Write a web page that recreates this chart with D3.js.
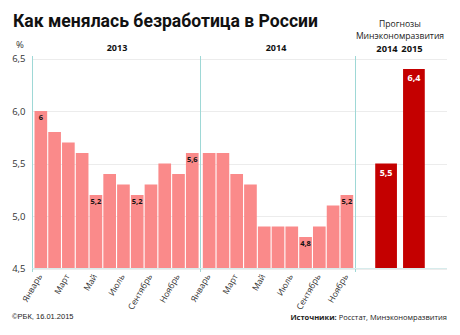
<!DOCTYPE html>
<html>
<head>
<meta charset="utf-8">
<script src="https://cdn.jsdelivr.net/npm/d3@7"></script>
<style>
  html, body { margin: 0; padding: 0; background: #fff; }
  svg { display: block; font-family: "Open Sans", "Noto Sans", sans-serif; }
</style>
</head>
<body>
<svg id="chart" width="460" height="335"></svg>
<script>
// Unemployment rate, % (Rosstat), monthly
const months = ["Январь","Февраль","Март","Апрель","Май","Июнь","Июль","Август","Сентябрь","Октябрь","Ноябрь","Декабрь"];
const values2013 = [6.0, 5.8, 5.7, 5.6, 5.2, 5.4, 5.3, 5.2, 5.3, 5.5, 5.4, 5.6];
const values2014 = [5.6, 5.6, 5.4, 5.3, 4.9, 4.9, 4.9, 4.8, 4.9, 5.1, 5.2];
// Months whose value is written on the bar
const labeled2013 = ["Январь","Май","Август","Декабрь"];
const labeled2014 = ["Август","Ноябрь"];
// Ministry of Economic Development forecast
const forecastYears = ["2014","2015"];
const forecastValues = [5.5, 6.4];
const yTicks = [4.5, 5.0, 5.5, 6.0, 6.5];

const svg = d3.select("#chart");
const fmt = v => (Number.isInteger(v) ? String(v) : d3.format(".1f")(v)).replace(".", ",");
const fmtTick = v => d3.format(".1f")(v).replace(".", ",");

const pink = "#fa8a8a", darkRed = "#c40000", teal = "#9ed8d6", grid = "#ececec";
const left = 32.5, sep1 = 200.5, sep2 = 355.5, right = 447;

const y = d3.scaleLinear().domain([4.5, 6.5]).range([268.5, 58.5]);

const x13 = d3.scaleBand().domain(months).range([34.5, 198.6]).paddingInner(0.08).paddingOuter(0);
const months14 = months.slice(0, values2014.length);
const x14 = d3.scaleBand().domain(months14).range([202.8, 353.2]).paddingInner(0.08).paddingOuter(0);
const xF = d3.scaleBand().domain(forecastYears).range([373, 427]).paddingInner(0.22).paddingOuter(0.08);

// Title
svg.append("text").attr("x", 13).attr("y", 27)
  .attr("font-size", 17.5).attr("font-weight", 700).attr("fill", "#111")
  .attr("font-family", "Roboto, 'Open Sans', sans-serif")
  .attr("textLength", 305).attr("lengthAdjust", "spacingAndGlyphs")
  .text("Как менялась безработица в России");

// Gridlines
svg.append("g").selectAll("line").data(yTicks).join("line")
  .attr("x1", left).attr("x2", right)
  .attr("y1", d => Math.round(y(d)) + 0.5).attr("y2", d => Math.round(y(d)) + 0.5)
  .attr("stroke", grid).attr("stroke-width", 1);

// Y axis labels
const yAxis = d3.axisLeft(y).tickValues(yTicks).tickFormat(fmtTick).tickSize(0).tickPadding(0);
const gy = svg.append("g").attr("transform", `translate(${left - 7},0)`).call(yAxis);
gy.select(".domain").remove();
gy.selectAll("text").attr("font-size", 9.5).attr("fill", "#333")
  .attr("font-family", "'Open Sans', sans-serif");
svg.append("text").attr("x", 20).attr("y", 48).attr("text-anchor", "middle")
  .attr("font-size", 9.5).attr("fill", "#333").text("%");

// Bars
function drawBars(data, xs, labeled) {
  const g = svg.append("g");
  g.selectAll("rect").data(data).join("rect")
    .attr("x", d => xs(d.m)).attr("width", xs.bandwidth())
    .attr("y", d => y(d.v)).attr("height", d => y(4.5) - y(d.v))
    .attr("fill", pink);
  g.selectAll("text").data(data.filter(d => labeled.includes(d.m))).join("text")
    .attr("x", d => xs(d.m) + xs.bandwidth() / 2).attr("y", d => y(d.v) + 9)
    .attr("text-anchor", "middle").attr("font-size", 7.5).attr("font-weight", 700)
    .attr("fill", "#111").text(d => fmt(d.v));
}
drawBars(months.map((m, i) => ({m, v: values2013[i]})), x13, labeled2013);
drawBars(months14.map((m, i) => ({m, v: values2014[i]})), x14, labeled2014);

// Forecast bars
const gf = svg.append("g");
const fData = forecastYears.map((k, i) => ({k, v: forecastValues[i]}));
gf.selectAll("rect").data(fData).join("rect")
  .attr("x", d => xF(d.k)).attr("width", xF.bandwidth())
  .attr("y", d => y(d.v)).attr("height", d => y(4.5) - y(d.v))
  .attr("fill", darkRed);
gf.selectAll("text").data(fData).join("text")
  .attr("x", d => xF(d.k) + xF.bandwidth() / 2).attr("y", d => y(d.v) + 12)
  .attr("text-anchor", "middle").attr("font-size", 9).attr("font-weight", 700)
  .attr("fill", "#fff").text(d => fmt(d.v));

// Panel separators
svg.append("g").selectAll("line").data([left, sep1, sep2]).join("line")
  .attr("x1", d => d).attr("x2", d => d).attr("y1", 56).attr("y2", 272)
  .attr("stroke", teal).attr("stroke-width", 1);
// Baseline
svg.append("line").attr("x1", left).attr("x2", right).attr("y1", 268.5).attr("y2", 268.5)
  .attr("stroke", "#d7ecec").attr("stroke-width", 1);

// Month labels (odd months only)
function monthAxis(xs, domain) {
  const ax = d3.axisBottom(xs).tickValues(domain.filter((d, i) => i % 2 === 0)).tickSize(0).tickPadding(0);
  const g = svg.append("g").attr("transform", "translate(0,273)").call(ax);
  g.select(".domain").remove();
  g.selectAll("text").attr("font-size", 8.5).attr("fill", "#333")
    .attr("font-family", "'Open Sans', sans-serif")
    .attr("text-anchor", "end").attr("dy", "0.35em")
    .attr("transform", "rotate(-60) translate(-2,0)");
}
monthAxis(x13, months);
monthAxis(x14, months14);

// Panel headers
svg.append("text").attr("x", 117).attr("y", 51).attr("text-anchor", "middle")
  .attr("font-size", 9).attr("font-weight", 700).attr("fill", "#111").text("2013");
svg.append("text").attr("x", 276).attr("y", 51).attr("text-anchor", "middle")
  .attr("font-size", 9).attr("font-weight", 700).attr("fill", "#111").text("2014");
svg.append("text").attr("x", 400).attr("y", 27).attr("text-anchor", "middle")
  .attr("font-size", 8.6).attr("fill", "#222").text("Прогнозы");
svg.append("text").attr("x", 400).attr("y", 39).attr("text-anchor", "middle")
  .attr("font-size", 8.6).attr("fill", "#222").text("Минэкономразвития");
svg.append("g").selectAll("text").data(forecastYears).join("text")
  .attr("x", (d, i) => [387, 412][i]).attr("y", 51.5).attr("text-anchor", "middle")
  .attr("font-size", 9.3).attr("font-weight", 700).attr("fill", "#111").text(d => d);

// Footer
svg.append("text").attr("x", 12).attr("y", 319)
  .attr("font-size", 7.5).attr("fill", "#222").attr("font-family", "'Liberation Sans', Arial, sans-serif")
  .text("©РБК, 16.01.2015");
const src = svg.append("text").attr("x", 447).attr("y", 320).attr("text-anchor", "end")
  .attr("font-size", 7.5).attr("fill", "#222");
src.append("tspan").attr("font-weight", 700).text("Источники: ");
src.append("tspan").text("Росстат, Минэкономразвития");
</script>
</body>
</html>
